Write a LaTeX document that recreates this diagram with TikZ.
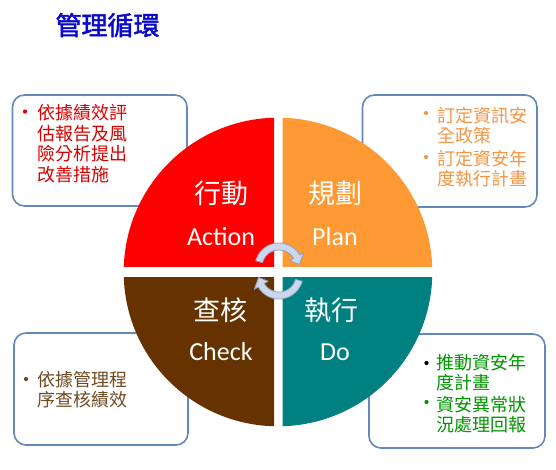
\documentclass[tikz,border=0pt]{standalone}
\usepackage{fontspec}
\setmainfont{Carlito}
\newfontfamily\cjk{Noto Sans CJK TC}
\newfontfamily\cjkb[FakeBold=2]{Noto Sans CJK TC}
\newfontfamily\lat{Carlito}
\definecolor{qred}{RGB}{255,0,0}
\definecolor{qorange}{RGB}{255,153,51}
\definecolor{qteal}{RGB}{0,128,128}
\definecolor{qbrown}{RGB}{102,51,0}
\definecolor{boxc}{RGB}{100,135,190}
\definecolor{tred}{RGB}{220,0,0}
\definecolor{torange}{RGB}{245,150,70}
\definecolor{tbrown}{RGB}{110,75,35}
\definecolor{tgreen}{RGB}{0,150,0}
\definecolor{titlec}{RGB}{10,10,200}
\definecolor{arrf}{RGB}{205,215,234}
\definecolor{arrd}{RGB}{141,162,203}
\tikzset{
  box/.style={draw=boxc, line width=1.6pt, rounded corners=12pt, fill=white, inner sep=0pt},
  txt/.style={anchor=base west, inner sep=0pt, font=\cjk\fontsize{18}{21}\selectfont},
  bul/.style={circle, inner sep=0pt, minimum size=4.2pt},
  qcjk/.style={anchor=base, inner sep=0pt, text=white, font=\cjk\fontsize{27}{30}\selectfont},
  qlat/.style={anchor=base, inner sep=0pt, text=white, font=\lat\fontsize{26}{30}\selectfont},
  arrowst/.style={fill=arrf, draw=arrd, line width=0.8pt, line join=round}
}
\begin{document}
\begin{tikzpicture}[x=1pt,y=-1pt]
\useasboundingbox (0,0) rectangle (556,469);
% title
\node[anchor=base, inner sep=0pt, text=titlec, font=\cjkb\fontsize{26}{30}\selectfont] (title) at (107.5,35) {管理循環};
% boxes
\node[box, minimum width=174.5pt, minimum height=111pt] (tlbox) at (99.75,150.5) {};
\node[box, minimum width=174.5pt, minimum height=112pt] (trbox) at (449.75,151) {};
\node[box, minimum width=174pt, minimum height=112pt] (blbox) at (101,389) {};
\node[box, minimum width=176pt, minimum height=114pt] (brbox) at (457,391) {};
% quadrants
\begin{scope}\clip (0,0) rectangle (274,266.7); \fill[qred] (278,272) circle[radius=154.3pt]; \end{scope}
\begin{scope}\clip (282.7,0) rectangle (556,266.7); \fill[qorange] (278,272) circle[radius=154.3pt]; \end{scope}
\begin{scope}\clip (0,277) rectangle (274,469); \fill[qbrown] (278,272) circle[radius=154.3pt]; \end{scope}
\begin{scope}\clip (282.7,277) rectangle (556,469); \fill[qteal] (278,272) circle[radius=154.3pt]; \end{scope}
% quadrant labels
\node[qcjk] (act1) at (221,203) {行動};
\node[qlat] (act2) at (221,245) {Action};
\node[qcjk] (plan1) at (335,203) {規劃};
\node[qlat] (plan2) at (335,245) {Plan};
\node[qcjk] (chk1) at (220,320) {查核};
\node[qlat] (chk2) at (221,360) {Check};
\node[qcjk] (do1) at (331,320) {執行};
\node[qlat] (do2) at (335,360) {Do};
% cycle arrows
\filldraw[arrowst] plot[domain=195:330,samples=30] ({279+24*cos(\x)},{267+24*sin(\x)})
  -- ({279+28.5*cos(330)},{267+28.5*sin(330)})
  -- ({279+20.5*cos(353)},{267+20.5*sin(353)})
  -- ({279+12.5*cos(330)},{267+12.5*sin(330)})
  -- plot[domain=330:195,samples=30] ({279+17*cos(\x)},{267+17*sin(\x)}) -- cycle;
\filldraw[arrowst] plot[domain=15:150,samples=30] ({279+24*cos(\x)},{275+24*sin(\x)})
  -- ({279+28.5*cos(150)},{275+28.5*sin(150)})
  -- ({279+20.5*cos(173)},{275+20.5*sin(173)})
  -- ({279+12.5*cos(150)},{275+12.5*sin(150)})
  -- plot[domain=150:15,samples=30] ({279+17*cos(\x)},{275+17*sin(\x)}) -- cycle;
% top-left text
\node[bul, fill=tred] (tlb1) at (25,111.5) {};
\node[txt, text=tred] (tl1) at (37,119.5) {依據績效評};
\node[txt, text=tred] (tl2) at (37,140) {估報告及風};
\node[txt, text=tred] (tl3) at (37,160.5) {險分析提出};
\node[txt, text=tred] (tl4) at (37,181) {改善措施};
% top-right text
\node[bul, fill=torange] (trb1) at (426,113) {};
\node[txt, text=torange] (tr1) at (437.5,122) {訂定資訊安};
\node[txt, text=torange] (tr2) at (437.5,142) {全政策};
\node[bul, fill=torange] (trb2) at (426,157) {};
\node[txt, text=torange] (tr3) at (437.5,165) {訂定資安年};
\node[txt, text=torange] (tr4) at (437.5,185) {度執行計畫};
% bottom-left text
\node[bul, fill=tbrown] (blb1) at (26,379) {};
\node[txt, text=tbrown] (bl1) at (37.3,386) {依據管理程};
\node[txt, text=tbrown] (bl2) at (37.3,406) {序查核績效};
% bottom-right text
\node[bul, fill=black] (brb1) at (426.5,363) {};
\node[txt, text=tgreen] (br1) at (436,369) {推動資安年};
\node[txt, text=tgreen] (br2) at (436,389) {度計畫};
\node[bul, fill=tgreen] (brb2) at (426.5,402) {};
\node[txt, text=tgreen] (br3) at (436,411) {資安異常狀};
\node[txt, text=tgreen] (br4) at (436,431) {況處理回報};
\end{tikzpicture}
\end{document}
